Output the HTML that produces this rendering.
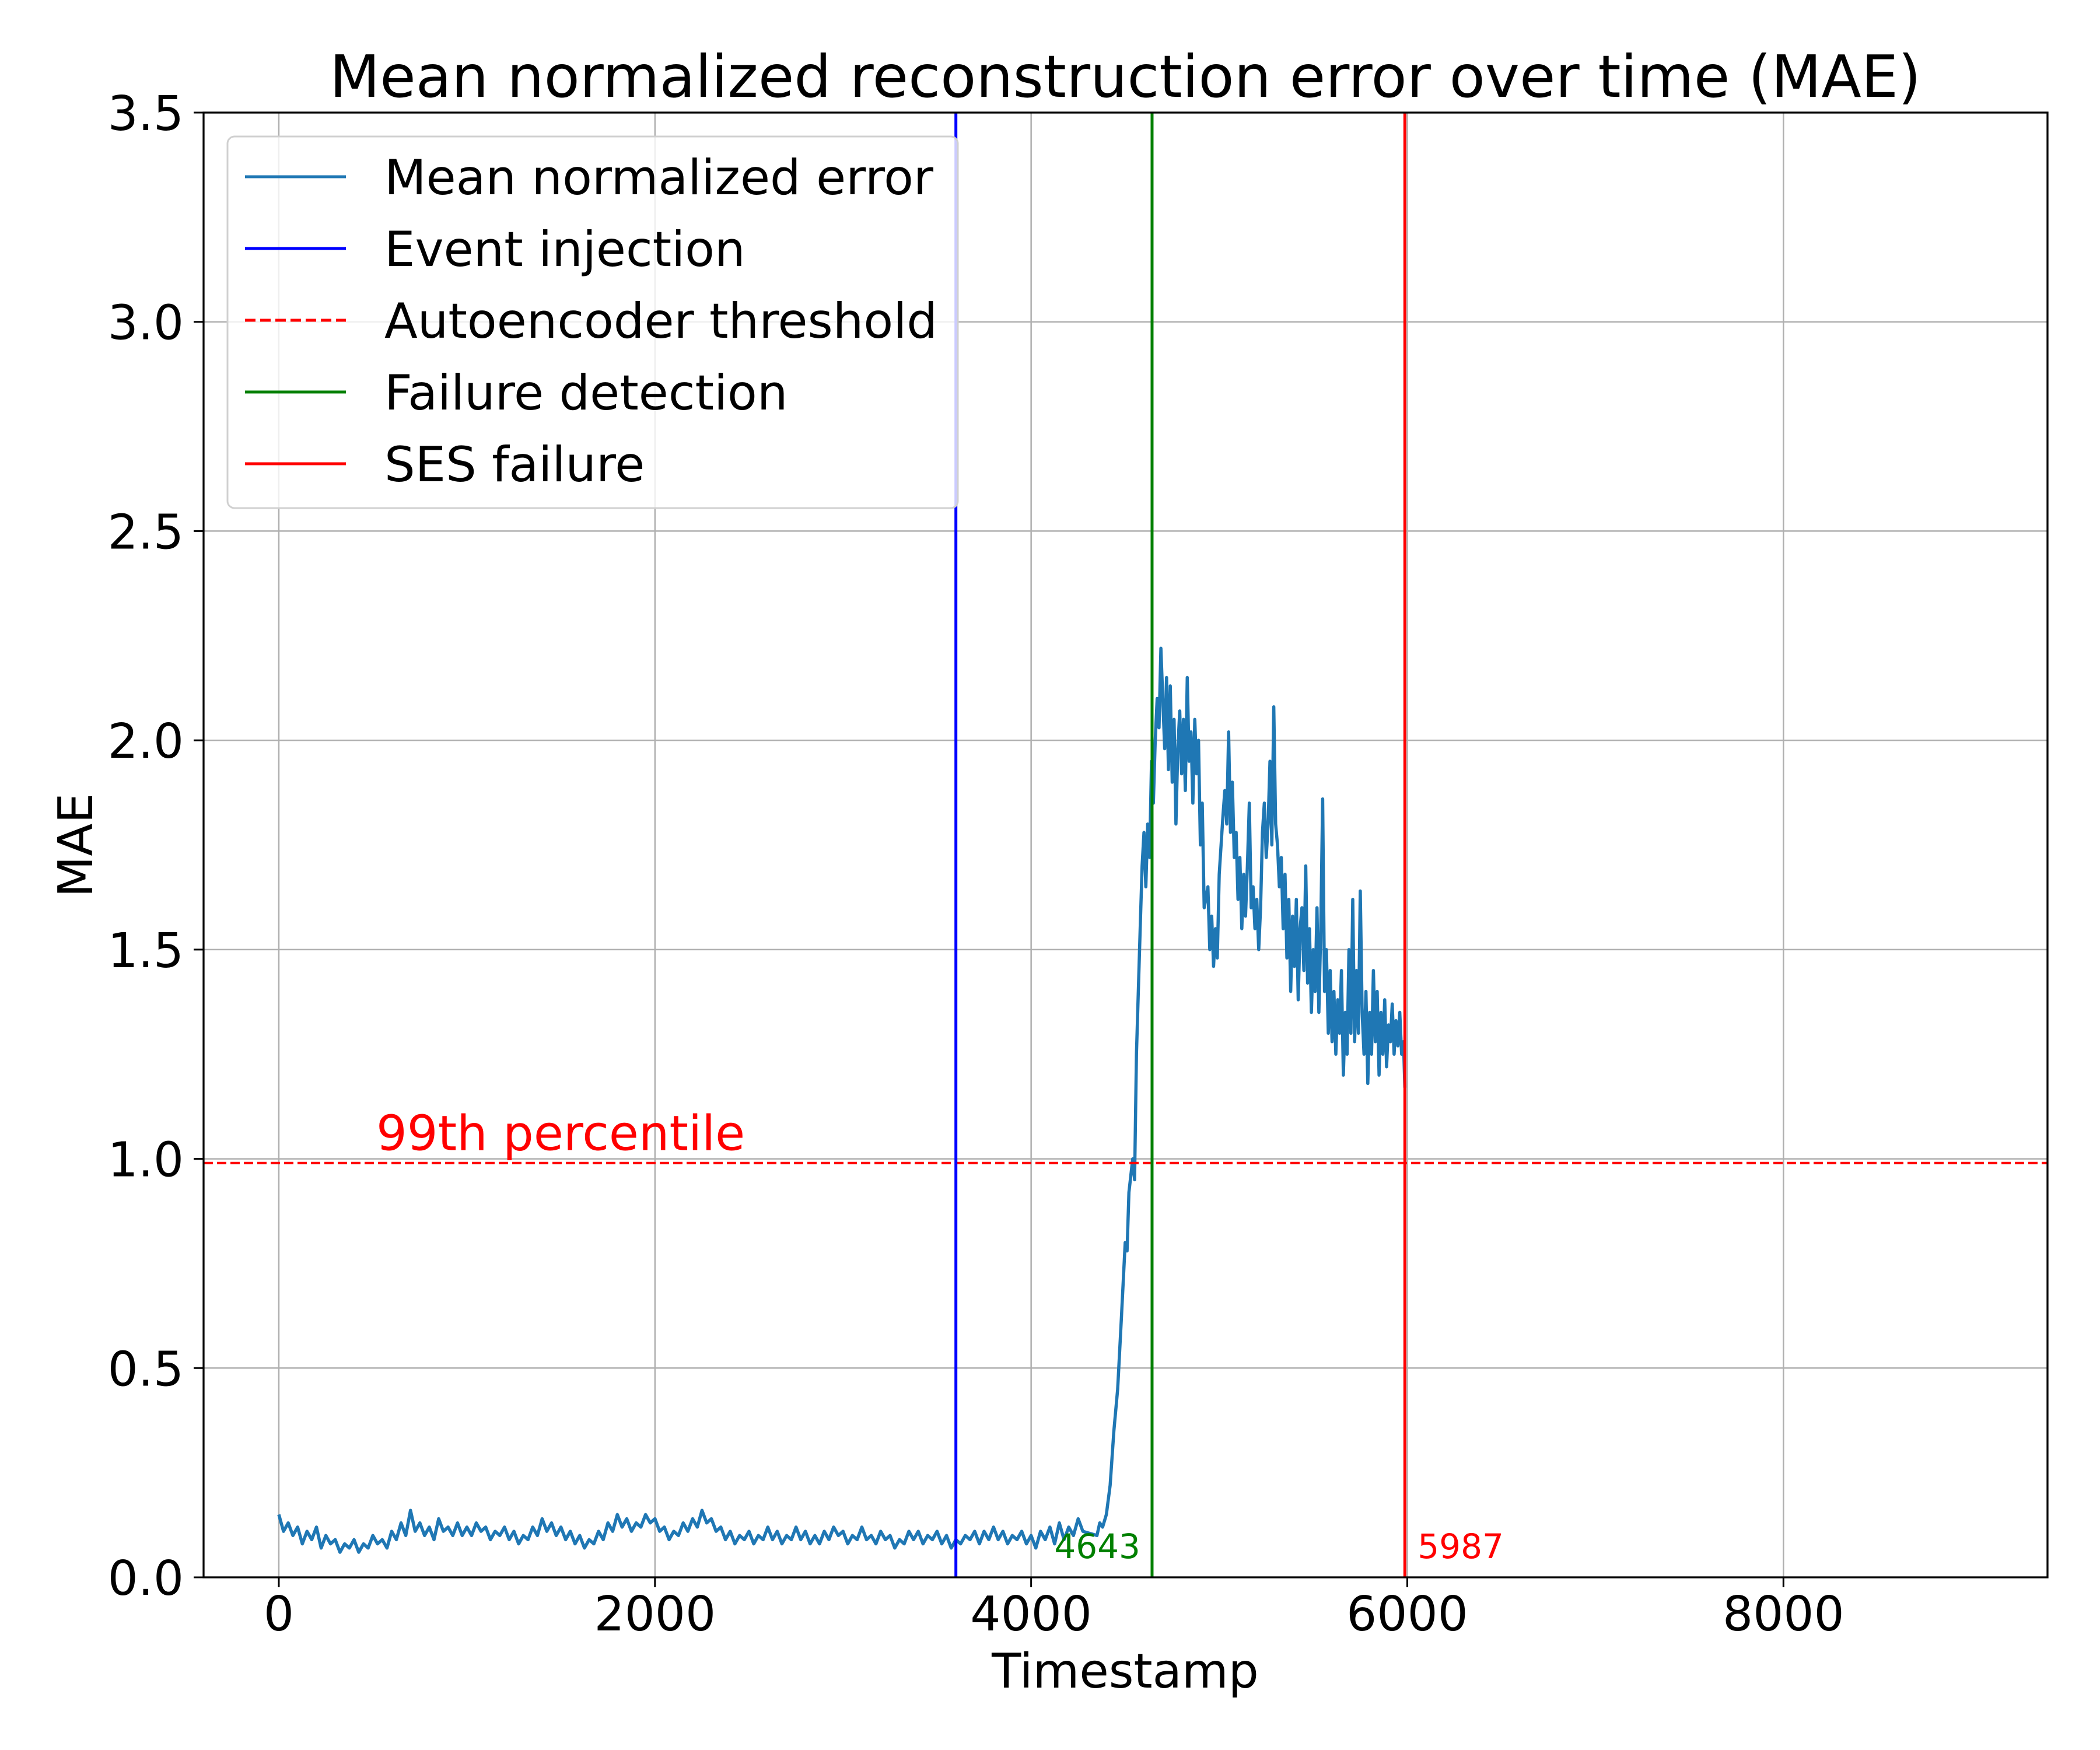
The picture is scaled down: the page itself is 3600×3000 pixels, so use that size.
<!DOCTYPE html>
<html><head><meta charset="utf-8">
<style>
html,body{margin:0;padding:0;background:#fff;}
svg{display:block;font-family:"DejaVu Sans","Liberation Sans",sans-serif;}
</style></head>
<body>
<svg id="chart" width="3600" height="3000" viewBox="0 0 3600 3000" xmlns="http://www.w3.org/2000/svg">
<rect width="3600" height="3000" fill="#fff"/>
<g id="grid"></g>
<g id="marks"></g>
<g id="axes"></g>
<text x="1929" y="166" font-size="100" text-anchor="middle">Mean normalized reconstruction error over time (MAE)</text>
<text x="1929" y="2893" font-size="82" text-anchor="middle">Timestamp</text>
<text x="0" y="0" font-size="82" text-anchor="middle" transform="translate(158,1449) rotate(-90)">MAE</text>
<g>
<rect x="390" y="234" width="1252" height="637" rx="12" fill="#fff" fill-opacity="0.8" stroke="#d0d0d0" stroke-width="3"/>
<g><line x1="420" y1="303" x2="593" y2="303" stroke="#1f77b4" stroke-width="5"/><text x="659" y="333" font-size="83">Mean normalized error</text></g>
<g><line x1="420" y1="426" x2="593" y2="426" stroke="#0000ff" stroke-width="5"/><text x="659" y="456" font-size="83">Event injection</text></g>
<g><line x1="420" y1="549" x2="593" y2="549" stroke="#ff0000" stroke-width="5" stroke-dasharray="18,8"/><text x="659" y="579" font-size="83">Autoencoder threshold</text></g>
<g><line x1="420" y1="672" x2="593" y2="672" stroke="#008000" stroke-width="5"/><text x="659" y="702" font-size="83">Failure detection</text></g>
<g><line x1="420" y1="795" x2="593" y2="795" stroke="#ff0000" stroke-width="5"/><text x="659" y="825" font-size="83">SES failure</text></g>
</g>
</svg>
<script>
const xTicks = [0, 2000, 4000, 6000, 8000];
const yTicks = [0.0, 0.5, 1.0, 1.5, 2.0, 2.5, 3.0, 3.5];
const yTickLabels = ["0.0","0.5","1.0","1.5","2.0","2.5","3.0","3.5"];
// baseline samples: one value every 25 timestamps starting at 0
const baselineSpacing = 25;
const baselineValues = [0.15,0.11,0.13,0.10,0.12,0.08,0.11,0.09,0.12,0.07,0.10,0.08,0.09,0.06,0.08,0.07,0.09,0.06,0.08,0.07,0.10,0.08,0.09,0.07,0.11,0.09,0.13,0.10,0.16,0.11,0.13,0.10,0.12,0.09,0.14,0.11,0.12,0.10,0.13,0.10,0.12,
0.10,0.13,0.11,0.12,0.09,0.11,0.10,0.12,0.09,0.11,0.08,0.10,0.09,0.12,0.10,0.14,0.11,0.13,0.10,0.12,0.09,0.11,0.08,0.10,0.07,0.09,0.08,0.11,0.09,0.13,0.11,0.15,0.12,0.14,0.11,0.13,0.12,0.15,0.13,
0.14,0.11,0.12,0.09,0.11,0.10,0.13,0.11,0.14,0.12,0.16,0.13,0.14,0.11,0.12,0.09,0.11,0.08,0.10,0.09,0.11,0.08,0.10,0.09,0.12,0.09,0.11,0.08,0.10,0.09,0.12,0.09,0.11,0.08,0.10,0.08,0.11,0.09,0.12,
0.10,0.11,0.08,0.10,0.09,0.12,0.09,0.10,0.08,0.11,0.09,0.10,0.07,0.09,0.08,0.11,0.09,0.11,0.08,0.10,0.09,0.11,0.08,0.10,0.07,0.09,0.08,0.10,0.09,0.11,0.08,0.11,0.09,0.12,0.09,0.11,0.08,0.10,0.09,
0.11,0.08,0.10,0.07,0.11,0.09,0.12,0.08,0.13,0.09,0.12,0.10,0.14,0.11];
const riseTimestamps = [4350,4365,4380,4400,4420,4440,4460,4480,4500,4510,4520,4540,4550,4560,4570,4580,4590,4600,4610,4620,4630,4640,4650,4660,4670,4680,4690,4700,4710,4720,4730,4740,4750,4760,4770,4780,4790,4800,4810,4820,4830,4840,4850,4860,4870,4880,4890,4900,4910,4920,4940,4950,4960,4970,4980,4990,5000,5010,5020,5030,5040,5050,5060,5070,5080,5090,5100,5110,5120,5130,5140,5150,5160,5170,5180,5190,5200,5210,5220,5230,5240,5250,5260,5270,5280,5290,5300,5310,5320,5330,5340,5350,5360,5370,5380,5390,5400,5410,5420,5430,5440,5450,5460,5470,5480,5490,5500,5510,5520,5530,5540,5550,5560,5570,5580,5590,5600,5610,5620,5630,5640,5650,5660,5670,5680,5690,5700,5710,5720,5730,5740,5750,5760,5770,5780,5790,5800,5810,5820,5830,5840,5850,5860,5870,5880,5890,5900,5910,5920,5930,5940,5950,5960,5970,5980,5987];
const riseValues = [0.10,0.13,0.12,0.15,0.22,0.35,0.45,0.62,0.80,0.78,0.92,1.00,0.95,1.25,1.40,1.55,1.70,1.78,1.65,1.80,1.72,1.95,1.85,2.00,2.10,2.03,2.22,2.10,1.98,2.15,1.93,2.13,1.90,2.05,1.80,1.98,2.07,1.92,2.05,1.88,2.15,1.95,2.02,1.85,2.05,1.92,2.00,1.75,1.85,1.60,1.65,1.50,1.58,1.46,1.55,1.48,1.68,1.75,1.82,1.88,1.80,2.02,1.78,1.90,1.72,1.78,1.62,1.72,1.55,1.68,1.58,1.70,1.85,1.60,1.65,1.55,1.62,1.50,1.60,1.78,1.85,1.72,1.80,1.95,1.75,2.08,1.80,1.75,1.65,1.72,1.55,1.68,1.48,1.62,1.40,1.58,1.46,1.62,1.38,1.55,1.60,1.45,1.70,1.42,1.55,1.35,1.50,1.40,1.60,1.35,1.55,1.86,1.40,1.50,1.30,1.45,1.28,1.40,1.25,1.38,1.30,1.45,1.20,1.35,1.25,1.50,1.30,1.62,1.28,1.45,1.30,1.64,1.35,1.25,1.40,1.18,1.35,1.25,1.45,1.28,1.40,1.20,1.35,1.25,1.38,1.22,1.32,1.28,1.37,1.25,1.33,1.27,1.35,1.25,1.28,1.17];
const thresholdValue = 0.99;
const eventInjection = 3600;
const failureDetection = 4643;
const sesFailure = 5987;

const L=349,R=3510,T=193,B=2704, XMIN=-400, XMAX=9404, YMIN=0, YMAX=3.5;
const sx = v => L + (v - XMIN) / (XMAX - XMIN) * (R - L);
const sy = v => B - (v - YMIN) / (YMAX - YMIN) * (B - T);
const NS="http://www.w3.org/2000/svg";
function mk(tag, attrs, parent){const e=document.createElementNS(NS,tag);for(const k in attrs)e.setAttribute(k,attrs[k]);parent.appendChild(e);return e;}
const grid=document.getElementById('grid'), marks=document.getElementById('marks'), axes=document.getElementById('axes');

xTicks.forEach(t=>{
  const g=mk('line',{x1:sx(t),x2:sx(t),y1:T,y2:B,stroke:'#b0b0b0','stroke-width':2.5},grid);
  
  
  const tk=mk('line',{x1:sx(t),x2:sx(t),y1:B,y2:B+17,stroke:'#000','stroke-width':3},axes);
  
  
  const lb=mk('text',{x:sx(t),y:2795,'font-size':82,'text-anchor':'middle'},axes);
  lb.textContent=String(t);
  
  
});
yTicks.forEach((t,i)=>{
  const g=mk('line',{x1:L,x2:R,y1:sy(t),y2:sy(t),stroke:'#b0b0b0','stroke-width':2.5},grid);
  
  
  const tk=mk('line',{x1:L-17,x2:L,y1:sy(t),y2:sy(t),stroke:'#000','stroke-width':3},axes);
  
  
  const lb=mk('text',{x:315,y:sy(t)+30,'font-size':82,'text-anchor':'end'},axes);
  lb.textContent=yTickLabels[i];
  
  
});

const coords=[];
baselineValues.forEach((v,i)=>coords.push(sx(i*baselineSpacing).toFixed(1)+','+sy(v).toFixed(1)));
riseValues.forEach((v,i)=>coords.push(sx(riseTimestamps[i]).toFixed(1)+','+sy(v).toFixed(1)));
const line=mk('polyline',{points:coords.join(' '),fill:'none',stroke:'#1f77b4','stroke-width':5.5,'stroke-linejoin':'round'},marks);



const th=mk('line',{x1:L,x2:R,y1:sy(thresholdValue),y2:sy(thresholdValue),stroke:'#ff0000','stroke-width':4,'stroke-dasharray':'16,7'},marks);


const thl=mk('text',{x:645,y:sy(thresholdValue)-22,'font-size':83,fill:'#ff0000'},marks);
thl.textContent='99th percentile';



const ev=mk('line',{x1:sx(eventInjection),x2:sx(eventInjection),y1:T,y2:B,stroke:'#0000ff','stroke-width':5},marks);


const fd=mk('line',{x1:sx(failureDetection),x2:sx(failureDetection),y1:T,y2:B,stroke:'#008000','stroke-width':5},marks);


const fdl=mk('text',{x:sx(failureDetection)-20,y:2671,'font-size':58,fill:'#008000','text-anchor':'end'},marks);
fdl.textContent=String(failureDetection);


const sf=mk('line',{x1:sx(sesFailure),x2:sx(sesFailure),y1:T,y2:B,stroke:'#ff0000','stroke-width':5},marks);


const sfl=mk('text',{x:sx(sesFailure)+22,y:2671,'font-size':58,fill:'#ff0000'},marks);
sfl.textContent=String(sesFailure);



const frame=mk('rect',{x:L,y:T,width:R-L,height:B-T,fill:'none',stroke:'#000','stroke-width':3.3},axes);


</script>
</body></html>
